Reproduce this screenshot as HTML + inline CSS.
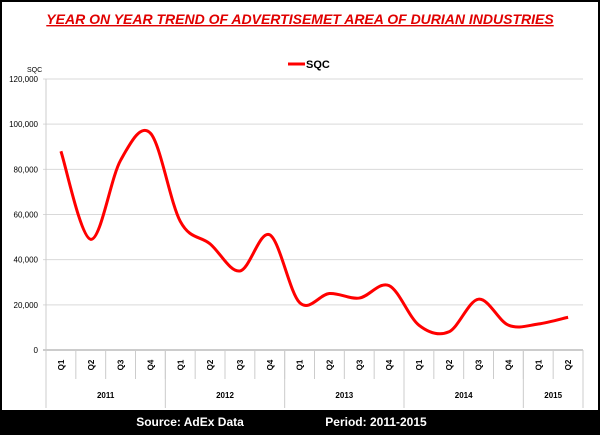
<!DOCTYPE html>
<html><head><meta charset="utf-8"><style>
body{margin:0;background:#fff;}
svg{display:block;font-family:"Liberation Sans",sans-serif;}
</style></head><body>
<svg width="600" height="435" viewBox="0 0 600 435">
<rect x="1" y="1" width="598" height="433" fill="#fff" stroke="#000" stroke-width="2"/>
<text x="300" y="24" text-anchor="middle" font-size="14" font-weight="bold" font-style="italic" fill="#e00000" text-decoration="underline">YEAR ON YEAR TREND OF ADVERTISEMET AREA OF DURIAN INDUSTRIES</text>
<line x1="288" y1="64" x2="305" y2="64" stroke="#f00" stroke-width="3"/>
<text x="306" y="68" font-size="11" font-weight="bold">SQC</text>
<text x="27" y="72" font-size="7">SQC</text>
<g id="grid"></g><g id="xaxis"></g>
<path id="line" fill="none" stroke="#f00" stroke-width="3"/>
<rect x="2" y="410" width="596" height="23" fill="#000"/>
<text x="190" y="426" text-anchor="middle" font-size="12" font-weight="bold" fill="#fff">Source: AdEx Data</text>
<text x="376" y="426" text-anchor="middle" font-size="12" font-weight="bold" fill="#fff">Period: 2011-2015</text>
</svg>
<script>
const quarters=["Q1","Q2","Q3","Q4","Q1","Q2","Q3","Q4","Q1","Q2","Q3","Q4","Q1","Q2","Q3","Q4","Q1","Q2"];
const years=["2011","2012","2013","2014","2015"];
const yearCounts=[4,4,4,4,2];
const sqc=[88000,49000,84000,96000,57000,47000,35000,51000,21000,25000,23000,28500,11000,8000,22500,11000,11500,14500];
const yTicks=[0,20000,40000,60000,80000,100000,120000];
const NS="http://www.w3.org/2000/svg";
const L=46,R=583,T=79,B=350,yMax=120000;
const bw=(R-L)/quarters.length;
const xs=i=>L+bw*(i+0.5);
const ys=v=>B-(v/yMax)*(B-T);
function mk(tag,attrs,parent){const e=document.createElementNS(NS,tag);for(const k in attrs)e.setAttribute(k,attrs[k]);parent.appendChild(e);return e;}
const grid=document.getElementById('grid'),xa=document.getElementById('xaxis');
yTicks.forEach(t=>{
  const y=ys(t);
  const gl=mk('line',{x1:L-3,x2:R,y1:y,y2:y,stroke:t===0?'#999':'#d9d9d9','stroke-width':1},grid);
  
  
  const tx=mk('text',{x:L-8,y:y+3,'text-anchor':'end','font-size':8},grid);
  tx.textContent=t.toLocaleString('en-US');
  
  
});
const ax=mk('line',{x1:L,x2:L,y1:T,y2:B,stroke:'#ccc'},grid);


quarters.forEach((q,i)=>{
  const x=xs(i);
  const t=mk('text',{x:0,y:0,'font-size':8,'font-weight':'bold','text-anchor':'middle',transform:`translate(${x+3},365) rotate(-90)`},xa);
  t.textContent=q;
  
  
  const sep=mk('line',{x1:L+bw*(i+1),x2:L+bw*(i+1),y1:B,y2:379,stroke:'#ccc'},xa);
  
  
});
let idx=0;
const y0=mk('line',{x1:L,x2:L,y1:B,y2:408,stroke:'#ccc'},xa);


years.forEach((yr,k)=>{
  const s=idx,e=idx+yearCounts[k];idx=e;
  const t=mk('text',{x:L+bw*(s+e)/2,y:398,'font-size':8,'font-weight':'bold','text-anchor':'middle'},xa);
  t.textContent=yr;
  
  
  const ln=mk('line',{x1:L+bw*e,x2:L+bw*e,y1:B,y2:408,stroke:'#ccc'},xa);
  
  
});
const P=sqc.map((v,i)=>[xs(i),ys(v)]);
let d=`M${P[0][0]},${P[0][1]}`;
for(let i=0;i<P.length-1;i++){
  const p0=P[i-1]||P[i],p1=P[i],p2=P[i+1],p3=P[i+2]||P[i+1];
  const c1=[p1[0]+(p2[0]-p0[0])/6,p1[1]+(p2[1]-p0[1])/6];
  const c2=[p2[0]-(p3[0]-p1[0])/6,p2[1]-(p3[1]-p1[1])/6];
  d+=` C${c1[0]},${c1[1]} ${c2[0]},${c2[1]} ${p2[0]},${p2[1]}`;
}
document.getElementById('line').setAttribute('d',d);
</script>
</body></html>
